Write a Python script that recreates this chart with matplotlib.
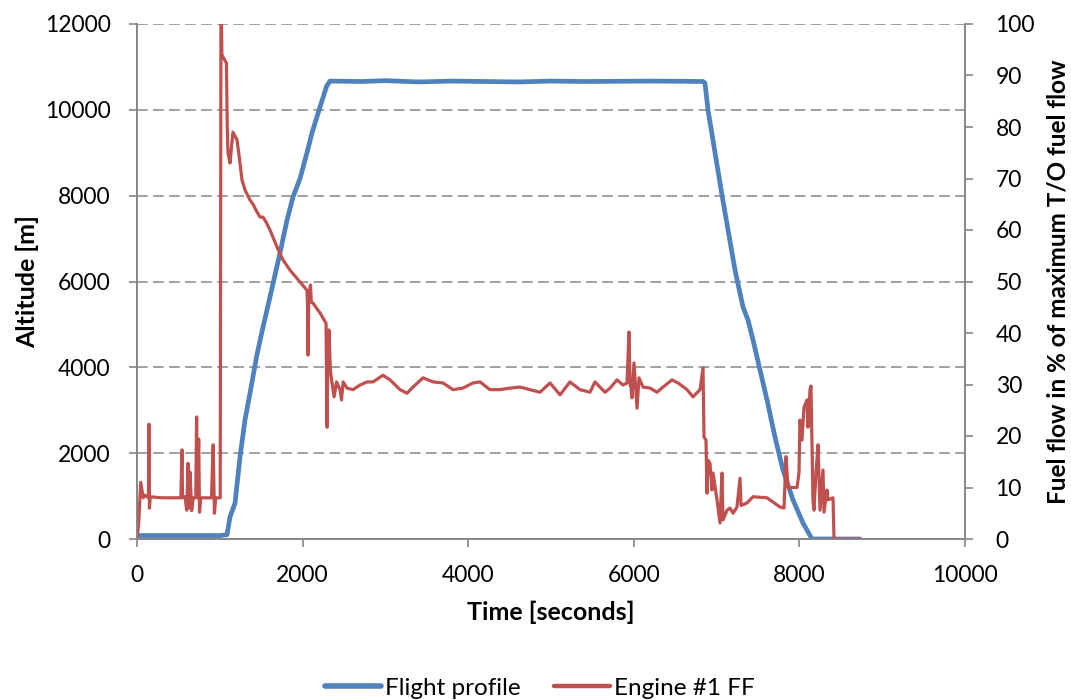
import matplotlib
matplotlib.use("Agg")
import matplotlib.pyplot as plt

plt.rcParams['font.family'] = ['Lato', 'DejaVu Sans']

# ---------------- data ----------------
alt_time = [0, 1000, 1087, 1123, 1184, 1244, 1304, 1365, 1449, 1522, 1606, 1727, 1812,
            1884, 1969, 2053, 2113, 2210, 2290, 2331, 2700, 3000, 3400, 3800, 4200,
            4600, 5000, 5400, 5800, 6200, 6600, 6836, 6860, 6896, 7065, 7222, 7319,
            7379, 7440, 7524, 7609, 7705, 7802, 7923, 8043, 8152, 8732]
alt_m = [80, 80, 100, 510, 840, 1910, 2773, 3400, 4300, 4939, 5638, 6664, 7432,
         7968, 8400, 9000, 9460, 10065, 10550, 10670, 10660, 10680, 10650, 10670, 10660,
         10650, 10670, 10660, 10665, 10670, 10665, 10660, 10624, 9995, 8015, 6268, 5405,
         5103, 4637, 3938, 3239, 2377, 1608, 909, 373, 0, 0]

ff_time = [0, 20, 45, 60, 75, 100, 138, 145, 150, 160, 300, 530, 543, 550, 580, 600,
           617, 625, 640, 660, 680, 710, 720, 730, 745, 755, 770, 900, 920, 935, 950,
           1005, 1014, 1020, 1025, 1039, 1080, 1090, 1099, 1123, 1159, 1208, 1244, 1268,
           1304, 1365, 1401, 1449, 1486, 1522, 1560, 1606, 1691, 1763, 1848, 1969, 2053,
           2060, 2065, 2075, 2095, 2105, 2126, 2210, 2283, 2290, 2295, 2305, 2319, 2335,
           2350, 2380, 2410, 2452, 2470, 2490, 2536, 2609, 2693, 2778, 2850, 2971, 3056,
           3176, 3261, 3333, 3454, 3575, 3696, 3816, 3937, 4058, 4143, 4263, 4384, 4505,
           4626, 4746, 4867, 4988, 5109, 5229, 5350, 5471, 5531, 5652, 5713, 5797, 5870,
           5918, 5942, 5955, 5966, 5978, 6002, 6039, 6063, 6111, 6196, 6280, 6353, 6461,
           6534, 6643, 6715, 6800, 6836, 6848, 6872, 6884, 6896, 6920, 6944, 6957, 7005,
           7041, 7065, 7077, 7126, 7162, 7198, 7246, 7283, 7295, 7367, 7440, 7609, 7766,
           7814, 7838, 7862, 7971, 7995, 8007, 8031, 8056, 8092, 8104, 8128, 8140, 8164,
           8176, 8200, 8225, 8249, 8285, 8297, 8333, 8345, 8406, 8418, 8732]
ff_pct = [0, 3, 11, 9.5, 8, 8.5, 8, 22.3, 6, 8.2, 8, 8, 17.3, 8, 8.2, 5.6,
          14.7, 6, 13, 5.5, 8, 8, 23.7, 8, 19.4, 5.2, 8, 8, 18.3, 5.0, 8,
          8, 102, 101, 94, 93.6, 92.4, 80, 75, 73, 79, 77.5, 73, 69.7,
          67.8, 65.8, 65, 63.5, 62.5, 62.5, 61.5, 60, 56.7, 54.2, 52.2, 49.9, 48.3,
          45, 35.7, 47, 49.3, 46, 45.8, 43.9, 41.9, 30, 21.7, 35, 40.6, 32.8,
          30.9, 27.6, 30.5, 29, 27, 30.5, 29.3, 29, 29.9, 30.5, 30.5, 31.8, 30.9,
          29, 28.3, 29.5, 31.3, 30.5, 30.3, 29, 29.3, 30.3, 30.5, 29, 29, 29.3,
          29.5, 29, 28.5, 30.3, 28, 30.5, 29, 28.5, 30.5, 28.5, 29.3, 30.9, 29.9,
          30.3, 40.2, 30, 29.5, 27.4, 34.2, 25.4, 31.3, 29.5, 29.3, 28.5, 29.5, 30.9,
          30.3, 29, 27.6, 29, 33.2, 19.8, 19.2, 8.9, 15.3, 14.7, 9.5, 12.8, 7.6,
          3.1, 12.8, 3.7, 5.6, 6, 5, 6.2, 11.8, 6.5, 7, 8.2, 8, 6.2,
          6, 16, 10, 10, 12.8, 23.1, 19.2, 25.6, 27, 21.7, 29, 29.7, 7.6,
          5.6, 12.8, 18.3, 5.6, 13.4, 5.2, 9.5, 7.6, 8, 0, 0]

x_ticks = [0, 2000, 4000, 6000, 8000, 10000]
alt_ticks = [0, 2000, 4000, 6000, 8000, 10000, 12000]
ff_ticks = [0, 10, 20, 30, 40, 50, 60, 70, 80, 90, 100]

# ---------------- figure ----------------
W, H = 1071, 700
fig = plt.figure(figsize=(W / 100, H / 100), dpi=100)
ax = fig.add_axes([137 / W, 1 - 539 / H, (965 - 137) / W, (539 - 24) / H])
ax2 = ax.twinx()

blue = '#4F81BD'
red = '#C0504D'
grey = '#868686'

l1, = ax.plot(alt_time, alt_m, color=blue, lw=3.4, solid_capstyle='round',
              solid_joinstyle='round', label='Flight profile')
l2, = ax2.plot(ff_time, ff_pct, color=red, lw=2.3, solid_capstyle='round',
               solid_joinstyle='round', label='Engine #1 FF')

ax.set_xlim(0, 10000)
ax.set_ylim(0, 12000)
ax2.set_ylim(0, 100)
ax.set_xticks(x_ticks)
ax.set_yticks(alt_ticks)
ax2.set_yticks(ff_ticks)

ax.yaxis.grid(True, color=grey, lw=1.1, linestyle=(0, (7, 3.5)))
ax.set_axisbelow(True)

for a in (ax, ax2):
    a.spines['top'].set_visible(False)
    for s in ('left', 'right', 'bottom'):
        a.spines[s].set_color(grey)
        a.spines[s].set_linewidth(1.2)
    a.tick_params(direction='out', length=6, width=1.2, color=grey,
                  labelsize=16.5, labelcolor='black')
ax.tick_params(axis='y', pad=13)
ax.tick_params(axis='x', pad=13)
ax2.tick_params(axis='y', pad=16)

ax.set_xlabel('Time [seconds]', fontsize=18, fontweight='bold', labelpad=10)
ax.set_ylabel('Altitude [m]', fontsize=18, fontweight='bold', labelpad=4)
ax2.set_ylabel('Fuel flow in % of maximum T/O fuel flow', fontsize=17.5,
               fontweight='bold', labelpad=8)

leg = fig.legend(handles=[l1, l2], loc='center', bbox_to_anchor=(540 / W, 1 - 688 / H),
                 ncol=2, frameon=False, fontsize=17.5, handlelength=2.3,
                 columnspacing=1.4, handletextpad=0.15)
for h in leg.get_lines():
    h.set_linewidth(4.0 if h.get_color() == blue else 3.2)

fig.savefig('out.png', dpi=100)
